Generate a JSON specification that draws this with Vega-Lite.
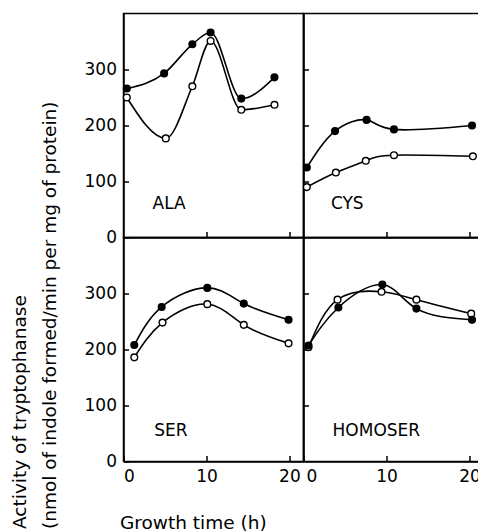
{
  "$schema": "https://vega.github.io/schema/vega-lite/v6.json",
  "padding": {"left": 9.5, "top": 12.5, "right": 0, "bottom": 0},
  "bounds": "flush",
  "spacing": 0,
  "columns": 2,
  "background": "white",
  "datasets": {
    "pts": [
      {"panel": "ALA", "series": "filled", "t": 0.4, "v": 266},
      {"panel": "ALA", "series": "filled", "t": 4.9, "v": 293},
      {"panel": "ALA", "series": "filled", "t": 8.3, "v": 345},
      {"panel": "ALA", "series": "filled", "t": 10.5, "v": 366},
      {"panel": "ALA", "series": "filled", "t": 14.2, "v": 248},
      {"panel": "ALA", "series": "filled", "t": 18.2, "v": 286},
      {"panel": "ALA", "series": "open", "t": 0.4, "v": 250},
      {"panel": "ALA", "series": "open", "t": 5.1, "v": 177},
      {"panel": "ALA", "series": "open", "t": 8.3, "v": 270},
      {"panel": "ALA", "series": "open", "t": 10.5, "v": 351},
      {"panel": "ALA", "series": "open", "t": 14.2, "v": 228},
      {"panel": "ALA", "series": "open", "t": 18.2, "v": 237},
      {"panel": "CYS", "series": "filled", "t": 0.4, "v": 125},
      {"panel": "CYS", "series": "filled", "t": 3.8, "v": 190},
      {"panel": "CYS", "series": "filled", "t": 7.6, "v": 210},
      {"panel": "CYS", "series": "filled", "t": 10.9, "v": 193},
      {"panel": "CYS", "series": "filled", "t": 20.3, "v": 200},
      {"panel": "CYS", "series": "open", "t": 0.4, "v": 90},
      {"panel": "CYS", "series": "open", "t": 3.9, "v": 116},
      {"panel": "CYS", "series": "open", "t": 7.5, "v": 137},
      {"panel": "CYS", "series": "open", "t": 10.9, "v": 147},
      {"panel": "CYS", "series": "open", "t": 20.4, "v": 145},
      {"panel": "SER", "series": "filled", "t": 1.3, "v": 208},
      {"panel": "SER", "series": "filled", "t": 4.6, "v": 276},
      {"panel": "SER", "series": "filled", "t": 10.1, "v": 310},
      {"panel": "SER", "series": "filled", "t": 14.5, "v": 282},
      {"panel": "SER", "series": "filled", "t": 19.9, "v": 253},
      {"panel": "SER", "series": "open", "t": 1.3, "v": 186},
      {"panel": "SER", "series": "open", "t": 4.7, "v": 248},
      {"panel": "SER", "series": "open", "t": 10.1, "v": 281},
      {"panel": "SER", "series": "open", "t": 14.5, "v": 244},
      {"panel": "SER", "series": "open", "t": 19.9, "v": 211},
      {"panel": "HOMOSER", "series": "open", "t": 0.6, "v": 204},
      {"panel": "HOMOSER", "series": "open", "t": 4.1, "v": 289},
      {"panel": "HOMOSER", "series": "open", "t": 9.4, "v": 303},
      {"panel": "HOMOSER", "series": "open", "t": 13.6, "v": 289},
      {"panel": "HOMOSER", "series": "open", "t": 20.2, "v": 264},
      {"panel": "HOMOSER", "series": "filled", "t": 0.6, "v": 207},
      {"panel": "HOMOSER", "series": "filled", "t": 4.2, "v": 275},
      {"panel": "HOMOSER", "series": "filled", "t": 9.5, "v": 316},
      {"panel": "HOMOSER", "series": "filled", "t": 13.6, "v": 273},
      {"panel": "HOMOSER", "series": "filled", "t": 20.3, "v": 253}
    ],
    "labels": [
      {"panel": "ALA", "label": "ALA", "t": 3.5, "v": 59},
      {"panel": "CYS", "label": "CYS", "t": 3.3, "v": 59},
      {"panel": "SER", "label": "SER", "t": 3.7, "v": 54},
      {"panel": "HOMOSER", "label": "HOMOSER", "t": 3.5, "v": 54}
    ]
  },
  "concat": [
    {
      "width": 180, "height": 224,
      "layer": [
        {
          "data": {"name": "pts"},
          "transform": [{"filter": "datum.panel === 'ALA'"}],
          "mark": {"type": "line", "interpolate": "monotone", "color": "black", "strokeWidth": 1.6},
          "encoding": {
            "x": {"field": "t", "type": "quantitative", "scale": {"domain": [0, 21.7], "nice": false}, "axis": {"values": [10, 20], "labels": false, "tickSize": -6, "title": null}},
            "y": {"field": "v", "type": "quantitative", "scale": {"domain": [0, 400], "nice": false}, "axis": {"values": [0, 100, 200, 300], "tickSize": -5, "labelPadding": 12, "title": null}},
            "detail": {"field": "series"}
          }
        },
        {
          "data": {"name": "pts"},
          "transform": [{"filter": "datum.panel === 'ALA'"}],
          "mark": {"type": "point", "shape": "circle", "filled": true, "stroke": "black", "strokeWidth": 1.4, "size": 45, "opacity": 1},
          "encoding": {
            "x": {"field": "t", "type": "quantitative"},
            "y": {"field": "v", "type": "quantitative"},
            "fill": {"field": "series", "type": "nominal", "scale": {"domain": ["filled", "open"], "range": ["black", "white"]}, "legend": null}
          }
        },
        {
          "data": {"name": "labels"},
          "transform": [{"filter": "datum.panel === 'ALA'"}],
          "mark": {"type": "text", "align": "left", "baseline": "middle", "fontSize": 17, "font": "DejaVu Sans", "color": "black"},
          "encoding": {
            "x": {"field": "t", "type": "quantitative"},
            "y": {"field": "v", "type": "quantitative"},
            "text": {"field": "label"}
          }
        }
      ]
    },
    {
      "width": 176, "height": 224,
      "layer": [
        {
          "data": {"name": "pts"},
          "transform": [{"filter": "datum.panel === 'CYS'"}],
          "mark": {"type": "line", "interpolate": "natural", "color": "black", "strokeWidth": 1.6},
          "encoding": {
            "x": {"field": "t", "type": "quantitative", "scale": {"domain": [0, 21.2], "nice": false}, "axis": {"values": [10, 20], "labels": false, "tickSize": -6, "title": null}},
            "y": {"field": "v", "type": "quantitative", "scale": {"domain": [0, 400], "nice": false}, "axis": {"values": [100, 200, 300], "labels": false, "tickSize": -5, "title": null}},
            "detail": {"field": "series"}
          }
        },
        {
          "data": {"name": "pts"},
          "transform": [{"filter": "datum.panel === 'CYS'"}],
          "mark": {"type": "point", "shape": "circle", "filled": true, "stroke": "black", "strokeWidth": 1.4, "size": 45, "opacity": 1},
          "encoding": {
            "x": {"field": "t", "type": "quantitative"},
            "y": {"field": "v", "type": "quantitative"},
            "fill": {"field": "series", "type": "nominal", "scale": {"domain": ["filled", "open"], "range": ["black", "white"]}, "legend": null}
          }
        },
        {
          "data": {"name": "labels"},
          "transform": [{"filter": "datum.panel === 'CYS'"}],
          "mark": {"type": "text", "align": "left", "baseline": "middle", "fontSize": 17, "font": "DejaVu Sans", "color": "black"},
          "encoding": {
            "x": {"field": "t", "type": "quantitative"},
            "y": {"field": "v", "type": "quantitative"},
            "text": {"field": "label"}
          }
        }
      ]
    },
    {
      "width": 180, "height": 224,
      "layer": [
        {
          "data": {"name": "pts"},
          "transform": [{"filter": "datum.panel === 'SER'"}],
          "mark": {"type": "line", "interpolate": "natural", "color": "black", "strokeWidth": 1.6},
          "encoding": {
            "x": {"field": "t", "type": "quantitative", "scale": {"domain": [0, 21.7], "nice": false}, "axis": {"values": [0, 10, 20], "tickSize": -6, "labelPadding": 13, "title": "Growth time (h)", "titleAnchor": "start", "titleAlign": "left", "titleBaseline": "middle", "titleX": -4, "titleY": 61, "titleFontSize": 18.5}},
            "y": {"field": "v", "type": "quantitative", "scale": {"domain": [0, 400], "nice": false}, "axis": {"values": [0, 100, 200, 300], "tickSize": -5, "labelPadding": 12, "title": ["Activity of tryptophanase", "(nmol of indole formed/min per mg of protein)"], "titleAngle": 270, "titleAlign": "left", "titleBaseline": "top", "titleLineHeight": 30, "titleFontSize": 18.5, "titleX": -113, "titleY": 291}},
            "detail": {"field": "series"}
          }
        },
        {
          "data": {"name": "pts"},
          "transform": [{"filter": "datum.panel === 'SER'"}],
          "mark": {"type": "point", "shape": "circle", "filled": true, "stroke": "black", "strokeWidth": 1.4, "size": 45, "opacity": 1},
          "encoding": {
            "x": {"field": "t", "type": "quantitative"},
            "y": {"field": "v", "type": "quantitative"},
            "fill": {"field": "series", "type": "nominal", "scale": {"domain": ["filled", "open"], "range": ["black", "white"]}, "legend": null}
          }
        },
        {
          "data": {"name": "labels"},
          "transform": [{"filter": "datum.panel === 'SER'"}],
          "mark": {"type": "text", "align": "left", "baseline": "middle", "fontSize": 17, "font": "DejaVu Sans", "color": "black"},
          "encoding": {
            "x": {"field": "t", "type": "quantitative"},
            "y": {"field": "v", "type": "quantitative"},
            "text": {"field": "label"}
          }
        }
      ]
    },
    {
      "width": 176, "height": 224,
      "layer": [
        {
          "data": {"name": "pts"},
          "transform": [{"filter": "datum.panel === 'HOMOSER'"}],
          "mark": {"type": "line", "interpolate": "natural", "color": "black", "strokeWidth": 1.6},
          "encoding": {
            "x": {"field": "t", "type": "quantitative", "scale": {"domain": [0, 21.2], "nice": false}, "axis": {"values": [0, 10, 20], "tickSize": -6, "labelPadding": 13, "labelFlush": true, "labelFlushOffset": -2.5, "title": null}},
            "y": {"field": "v", "type": "quantitative", "scale": {"domain": [0, 400], "nice": false}, "axis": {"values": [100, 200, 300], "labels": false, "tickSize": -5, "title": null}},
            "detail": {"field": "series"}
          }
        },
        {
          "data": {"name": "pts"},
          "transform": [{"filter": "datum.panel === 'HOMOSER'"}],
          "mark": {"type": "point", "shape": "circle", "filled": true, "stroke": "black", "strokeWidth": 1.4, "size": 45, "opacity": 1},
          "encoding": {
            "x": {"field": "t", "type": "quantitative"},
            "y": {"field": "v", "type": "quantitative"},
            "fill": {"field": "series", "type": "nominal", "scale": {"domain": ["filled", "open"], "range": ["black", "white"]}, "legend": null}
          }
        },
        {
          "data": {"name": "labels"},
          "transform": [{"filter": "datum.panel === 'HOMOSER'"}],
          "mark": {"type": "text", "align": "left", "baseline": "middle", "fontSize": 17, "font": "DejaVu Sans", "color": "black"},
          "encoding": {
            "x": {"field": "t", "type": "quantitative"},
            "y": {"field": "v", "type": "quantitative"},
            "text": {"field": "label"}
          }
        }
      ]
    }
  ],
  "config": {
    "view": {"stroke": "black", "strokeWidth": 1.5},
    "axis": {
      "grid": false,
      "domainColor": "black", "domainWidth": 1.5,
      "tickColor": "black", "tickWidth": 1.5,
      "labelColor": "black", "labelFont": "DejaVu Sans", "labelFontSize": 17,
      "titleColor": "black", "titleFont": "DejaVu Sans", "titleFontSize": 17, "titleFontWeight": "normal"
    }
  }
}
